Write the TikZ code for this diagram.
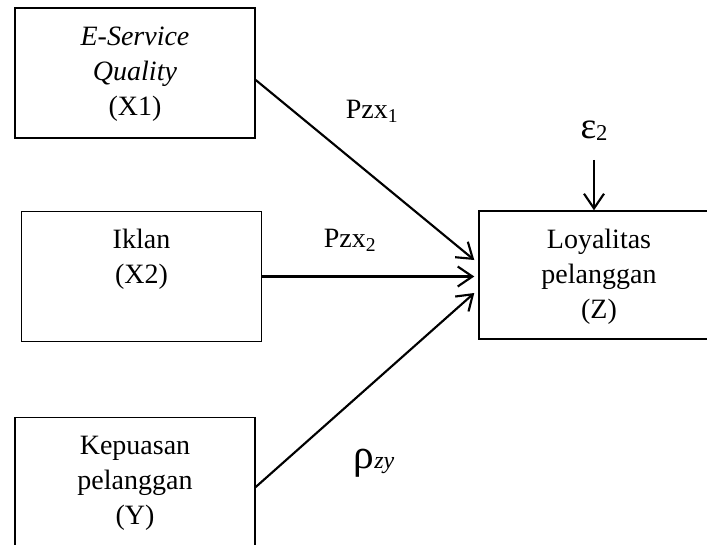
\documentclass[tikz,border=0pt]{standalone}
\usepackage{fontspec}
\setmainfont{Liberation Serif}
\usetikzlibrary{arrows.meta,calc}

\tikzset{every picture/.style={line width=0.75pt}}
\tikzset{
  varbox/.style={draw, line width=1.1pt, inner sep=0pt, font=\fontsize{21}{26.25}\selectfont},
  arr/.style={line width=1.6pt, -{Straight Barb[length=11pt,width=15pt]}},
  coef/.style={anchor=base, inner sep=0pt, font=\fontsize{21}{24}\selectfont}
}
\newcommand{\boxlines}[2][97.5pt]{\parbox[c][#1][t]{180pt}{\centering\rule{0pt}{28pt}#2}}

\begin{document}
\begin{tikzpicture}[x=0.75pt,y=0.75pt,yscale=-1]
	\path[use as bounding box, clip] (0,0) rectangle (707,544);

	% Variables
	\node[varbox] (x1) at (135,73) {\boxlines{\textit{E-Service}\\\textit{Quality}\\(X1)}};
	\node[varbox] (x2) at (141.5,276.5) {\boxlines{Iklan\\(X2)}};
	\node[varbox] (y) at (135,482.5) {\boxlines{Kepuasan\\pelanggan\\(Y)}};
	\node[varbox] (z) at (599,275) {\boxlines[96pt]{Loyalitas\\pelanggan\\(Z)}};

	% Error term
	\node[coef] (eps) at (594,138) {{\fontsize{28}{28}\selectfont ε}\raisebox{-2pt}{\fontsize{17}{17}\selectfont 2}};
	\draw[arr, shorten <=14pt] (eps.south) -- (eps.south |- z.north);

	% Paths
	\coordinate (zin) at ($(z.west)+(-4,0)$);
	\draw[arr] ($(x1.east)+(0,7)$) -- ($(zin)+(0,-15)$);
	\draw[arr] (x2.east) -- (x2.east -| zin);
	\draw[arr] ($(y.east)+(0,4.5)$) -- ($(zin)+(0,18)$);

	% Coefficients
	\node[coef] (pzx1) at (372,118) {Pzx\textsubscript{1}};
	\node[coef] (pzx2) at (350,247) {Pzx\textsubscript{2}};
	\node[coef] (rzy) at (374,468) {{\fontsize{31}{31}\selectfont ρ}{\itshape\fontsize{18}{18}\selectfont zy}};

\end{tikzpicture}
\end{document}
